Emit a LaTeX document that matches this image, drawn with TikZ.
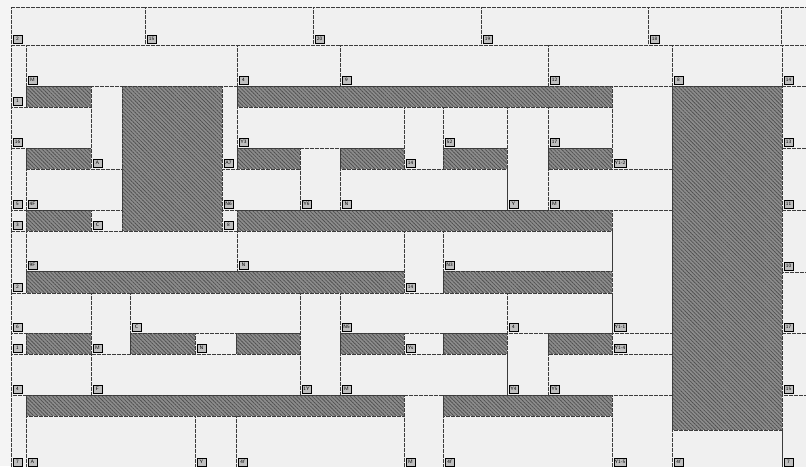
\documentclass[tikz,border=0pt]{standalone}
\usetikzlibrary{patterns.meta}
\definecolor{paper}{HTML}{F4F4F4}
\definecolor{cellbg}{HTML}{F0F0F0}
\definecolor{hatchbg}{HTML}{8C8C8C}
\definecolor{hatchln}{HTML}{505050}
\definecolor{edge}{HTML}{3C3C3C}
\tikzset{
 cellline/.style={draw=edge,line width=0.75pt,dash pattern=on 2pt off 0.5pt},
 whitecell/.style={cellline,fill=cellbg},
 hatchcell/.style={cellline,fill=hatchbg,postaction={pattern={Lines[angle=-45,distance=2.7pt,line width=0.8pt]},pattern color=hatchln}},
 tag/.style={draw=black,fill=gray!50,font=\fontsize{5}{5.5}\selectfont\sffamily,inner sep=0.8pt,minimum width=9.5pt,minimum height=8.5pt,line width=0.5pt}
}
\newcounter{tagn}
\newcommand\wcell[5]{\path[whitecell] (#1,#2) rectangle (#3,#4);
 \ifx&#5&\else\stepcounter{tagn}\node[tag,anchor=south west] (tag\arabic{tagn}) at (#1+1.5,#4-1.5) {#5};\fi}
\newcommand\hcell[4]{\path[hatchcell] (#1,#2) rectangle (#3,#4);}
\begin{document}
\begin{tikzpicture}[x=1pt,y=-1pt]
\useasboundingbox (0,0) rectangle (806,466);
\fill[paper] (0,0) rectangle (806,466);
\clip (0,0) rectangle (806,466);
% hatched strips and blocks
\hcell{26}{86}{91}{107}
\hcell{122}{86}{222}{231}
\hcell{237}{86}{612}{107}
\hcell{672}{86}{782}{430}
\hcell{26}{148}{91}{169}
\hcell{237}{148}{300}{169}
\hcell{340}{148}{404}{169}
\hcell{443}{148}{507}{169}
\hcell{548}{148}{612}{169}
\hcell{26}{210}{91}{231}
\hcell{237}{210}{612}{231}
\hcell{26}{271}{404}{293}
\hcell{443}{271}{612}{293}
\hcell{26}{333}{91}{354}
\hcell{130}{333}{195}{354}
\hcell{236}{333}{300}{354}
\hcell{340}{333}{404}{354}
\hcell{443}{333}{507}{354}
\hcell{548}{333}{612}{354}
\hcell{26}{395}{404}{416}
\hcell{443}{395}{612}{416}
% top row
\wcell{11}{7}{145}{45}{2}
\wcell{145}{7}{313}{45}{15}
\wcell{313}{7}{481}{45}{20}
\wcell{481}{7}{648}{45}{19}
\wcell{648}{7}{781}{45}{18}
\wcell{781}{7}{812}{45}{}
% left column
\wcell{11}{45}{26}{107}{1}
\wcell{11}{107}{91}{148}{16}
\wcell{11}{148}{26}{210}{5}
\wcell{11}{210}{26}{231}{3}
\wcell{11}{231}{26}{293}{2}
\wcell{11}{293}{91}{333}{6}
\wcell{11}{333}{26}{354}{1}
\wcell{11}{354}{91}{395}{4}
\wcell{11}{395}{26}{468}{7}
% second row
\wcell{26}{45}{237}{86}{M}
\wcell{237}{45}{340}{86}{4}
\wcell{340}{45}{548}{86}{9}
\wcell{548}{45}{672}{86}{12}
\wcell{672}{45}{782}{86}{8}
\wcell{782}{45}{812}{86}{14}
% right column
\wcell{782}{86}{812}{148}{13}
\wcell{782}{148}{812}{210}{11}
\wcell{782}{210}{812}{272}{10}
\wcell{782}{272}{812}{333}{17}
\wcell{782}{333}{812}{395}{15}
\wcell{782}{395}{812}{468}{7}
% middle cells
\wcell{91}{86}{122}{169}{A}
\wcell{222}{86}{237}{169}{A7}
\wcell{237}{107}{404}{148}{Y3}
\wcell{404}{107}{443}{169}{14}
\wcell{443}{107}{507}{148}{52}
\wcell{507}{107}{548}{210}{Y}
\wcell{548}{107}{612}{148}{17}
\wcell{612}{86}{672}{169}{Y1-2}
\wcell{26}{169}{122}{210}{4F}
\wcell{222}{169}{300}{210}{N6}
\wcell{300}{148}{340}{210}{Y6}
\wcell{340}{169}{507}{210}{N}
\wcell{548}{169}{672}{210}{M}
\wcell{91}{210}{122}{231}{C}
\wcell{222}{210}{237}{231}{8}
\wcell{612}{210}{672}{333}{Y1-1}
\wcell{26}{231}{237}{271}{9F}
\wcell{237}{231}{404}{271}{N}
\wcell{404}{231}{443}{293}{14}
\wcell{443}{231}{612}{271}{N3}
\wcell{91}{293}{130}{354}{M}
\wcell{130}{293}{300}{333}{C}
\wcell{300}{293}{340}{395}{1Y}
\wcell{340}{293}{507}{333}{N5}
\wcell{507}{293}{612}{333}{4}
\wcell{612}{333}{672}{354}{Y1-4}
\wcell{195}{333}{236}{354}{N}
\wcell{404}{333}{443}{354}{Ys}
\wcell{507}{333}{548}{395}{Y4}
\wcell{91}{354}{300}{395}{F}
\wcell{340}{354}{507}{395}{M}
\wcell{548}{354}{672}{395}{Y5}
% bottom row
\wcell{26}{416}{195}{468}{A}
\wcell{195}{416}{236}{468}{Y}
\wcell{236}{416}{404}{468}{4f}
\wcell{404}{395}{443}{468}{M}
\wcell{443}{416}{612}{468}{4f}
\wcell{612}{395}{672}{468}{Y1-5}
\wcell{672}{430}{782}{468}{4f}
\end{tikzpicture}
\end{document}
